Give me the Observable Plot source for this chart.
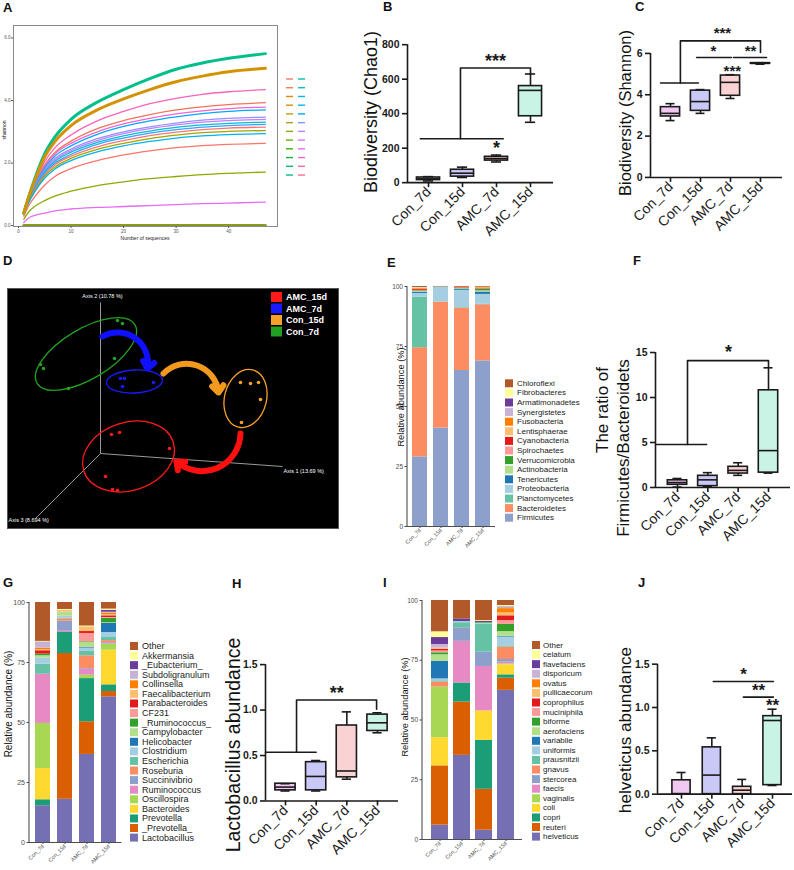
<!DOCTYPE html>
<html><head><meta charset="utf-8">
<script src="https://cdn.jsdelivr.net/npm/d3@7"></script>
<script src="https://cdn.jsdelivr.net/npm/@observablehq/plot@0.6"></script>
<style>
html,body{margin:0;padding:0;background:#fff;}
#root{position:relative;width:794px;height:870px;overflow:hidden;background:#fff;}
#root > svg{position:absolute;}
</style></head><body><div id="root"></div>
<script>
const FF = "'Liberation Sans', Arial, Helvetica, sans-serif";
const root = document.getElementById("root");

// ---------------- A: rarefaction curves ----------------
const rareSeq = [1,2,3,5,7,10,15,20,25,30,35,40,47];
const rareShannon = [
  [0.4,0.95,1.45,2.3,2.85,3.4,3.95,4.35,4.7,5.0,5.2,5.35,5.5],
  [0.4,0.95,1.4,2.2,2.7,3.2,3.7,4.05,4.35,4.6,4.78,4.92,5.03],
  [0.4,0.9,1.35,2.05,2.5,2.9,3.35,3.65,3.9,4.07,4.2,4.28,4.35],
  [0.4,0.9,1.3,1.95,2.35,2.7,3.1,3.36,3.55,3.7,3.8,3.87,3.93],
  [0.4,0.88,1.28,1.9,2.3,2.63,3.0,3.25,3.43,3.57,3.67,3.74,3.79],
  [0.4,0.86,1.25,1.85,2.23,2.55,2.92,3.17,3.35,3.48,3.58,3.65,3.70],
  [0.38,0.85,1.22,1.8,2.15,2.45,2.78,3.0,3.16,3.28,3.37,3.43,3.47],
  [0.38,0.84,1.2,1.77,2.1,2.4,2.72,2.94,3.1,3.22,3.31,3.36,3.40],
  [0.38,0.83,1.18,1.73,2.06,2.35,2.66,2.87,3.02,3.14,3.22,3.27,3.31],
  [0.36,0.8,1.15,1.68,2.0,2.28,2.6,2.8,2.96,3.07,3.15,3.2,3.24],
  [0.36,0.8,1.12,1.63,1.95,2.22,2.52,2.72,2.88,2.99,3.07,3.12,3.15],
  [0.35,0.78,1.08,1.58,1.88,2.15,2.44,2.63,2.78,2.89,2.97,3.01,3.04],
  [0.35,0.75,1.05,1.52,1.82,2.08,2.36,2.55,2.69,2.8,2.87,2.91,2.94],
  [0.3,0.65,0.9,1.3,1.58,1.82,2.08,2.26,2.39,2.49,2.56,2.6,2.63],
  [0.2,0.45,0.6,0.8,0.95,1.1,1.28,1.4,1.5,1.57,1.63,1.67,1.71],
  [0.1,0.25,0.32,0.4,0.47,0.53,0.58,0.61,0.64,0.67,0.7,0.72,0.75],
  [0,0,0,0,0,0,0,0,0,0,0,0,0]
];
const rareColors = ["#00BF8A","#D39200","#F564B8","#F3735A","#F064D6","#00A9FF","#9590FF","#C77CFF",
  "#00BCD8","#35A2FF","#F8766D","#A3A500","#00B4EF","#F8766D","#8EAA00","#E76BF3","#8A9A20"];
const rareWidths = [3,3,1.3,1.3,1.3,1.3,1.3,1.3,1.3,1.3,1.3,1.3,1.3,1.3,1.3,1.3,2.5];
const legendAColors = ["#F8766D","#F07E4F","#E38900","#D39200","#BF9B00","#A8A300","#8EAA00","#6BB100","#39B600","#00BA42","#00BE67","#00C08B",
  "#00C1A9","#00C0C2","#00BCD8","#00B4EF","#00A9FF","#7F96FF","#B385FF","#DB72FB","#F564E3","#FF61C9","#FF65AE","#FF6C91"];

// ---------------- D: PCoA ----------------
const pcoaGroups = ["AMC_15d","AMC_7d","Con_15d","Con_7d"];
const pcoaColors = ["#FF1A1A","#1A1AFF","#F7A12A","#22A022"];
const pcoaAmc15 = [[104,146],[112,144],[162,160],[98,188],[105,201],[110,202]];
const pcoaAmc7 = [[113,90],[117,90],[115,98],[146,94]];
const pcoaCon15 = [[233,94],[243,95],[251,94],[253,111],[234,134]];
const pcoaCon7 = [[110,32],[115,35],[107,70],[33,76],[36,80],[61,100]];
const pcoaEllipses = [[121.5,168.5,47,34,-18],[127.5,93.5,28,11.5,-3],[238.5,110.5,21,29.5,14],[79,66,57,25,-31]];
const pcoaOrigin = [93,165];
const pcoaAxisEnds = [[275,178],[93,14],[28,230]];
const pcoaAxisLabels = ["Axis 1 (13.69 %)","Axis 2 (10.78 %)","Axis 3 (8.694 %)"];
const pcoaArrows = [[95,48,140,80],[156,85,211,104],[233,145,169,173]];
const pcoaArrowColors = ["#1010FF","#F39A1E","#FF1010"];

// ---------------- box plots (min, q1, median, q3, max) ----------------
const groups = ["Con_7d","Con_15d","AMC_7d","AMC_15d"];
const boxFills = ["#F1C8F0","#C9C8F6","#F9D3D3","#C9F3E4"];
const chao1Stats = [[10,15,22,30,35],[30,35,55,75,90],[120,128,140,150,160],[350,385,535,560,630]];
const chao1Brackets = [[[-0.24,255],[2.2,255]],[[0.94,255],[0.94,665],[3,665],[3,632]]];
const chao1Stars = [[1.97,712,"***"],[2,205,"*"]];
const shannonStats = [[2.75,2.95,3.1,3.4,3.57],[3.1,3.22,3.67,4.2,4.25],[3.82,3.95,4.6,4.93,4.97],[5.48,5.5,5.52,5.53,5.55]];
const shannonBrackets = [[[-0.33,4.57],[0.93,4.57]],[[0.33,4.57],[0.33,6.61],[3,6.61],[3,6.05]],[[0.87,5.8],[2.03,5.8]],[[2.1,5.8],[3.2,5.8]]];
const shannonStars = [[1.73,7.04,"***"],[1.43,6.18,"*"],[2.67,6.18,"**"],[2.06,5.2,"***"]];
const fbStats = [[0.05,0.3,0.55,0.8,1.0],[0.1,0.15,0.85,1.3,1.65],[1.35,1.55,1.9,2.3,2.75],[1.6,1.65,4.1,10.8,13.3]];
const fbBrackets = [[[-0.69,4.78],[0.96,4.78]],[[0.33,4.78],[0.33,14.1],[3,14.1],[3,13.4]]];
const fbStars = [[1.68,15.1,"*"]];
const lactoStats = [[0.11,0.117,0.153,0.19,0.19],[0.11,0.117,0.27,0.427,0.445],[0.24,0.26,0.33,0.83,0.98],[0.75,0.77,0.86,0.95,0.97]];
const lactoBrackets = [[[-0.65,0.536],[1.0,0.536]],[[0.36,0.536],[0.36,1.11],[2.97,1.11],[2.97,1.01]]];
const lactoStars = [[1.67,1.2,"**"]];
const helvStats = [[0,0,0.005,0.16,0.25],[0,0,0.22,0.54,0.65],[0,0,0.046,0.085,0.17],[0.1,0.104,0.85,0.9,0.98]];
const helvBrackets = [[[1.05,1.3],[3.03,1.3]],[[2.04,1.12],[3.03,1.12]]];
const helvStars = [[2.05,1.39,"*"],[2.54,1.21,"**"],[3.0,1.03,"**"]];

// ---------------- stacked bars (bottom -> top) ----------------
const phyla = ["Firmicutes","Bacteroidetes","Planctomycetes","Proteobacteria","Tenericutes","Actinobacteria","Verrucomicrobia","Spirochaetes","Cyanobacteria","Lentisphaerae","Fusobacteria","Synergistetes","Armatimonadetes","Fibrobacteres","Chloroflexi"];
const phylaColors = ["#8DA0CB","#FC8D62","#66C2A5","#A6CEE3","#1F78B4","#B2DF8A","#33A02C","#FB9A99","#E31A1C","#FDBF6F","#FF7F00","#CAB2D6","#6A3D9A","#FFFF99","#B15928"];
const phylaCon7 = [29,45.5,21,1.6,0.5,0.3,0.3,0.2,0.4,0.1,0.3,0.1,0.1,0.2,0.4];
const phylaCon15 = [41,52.5,0.1,6,0.1,0.05,0.05,0,0,0,0,0.05,0,0,0.15];
const phylaAmc7 = [65,26,0.2,7.2,0.5,0.2,0.1,0.1,0.2,0,0.2,0,0,0,0.3];
const phylaAmc15 = [69,23.4,0.3,4,1.0,0.5,0.6,0.2,0.2,0,0.3,0,0,0.2,0.3];

const genera = ["Lactobacillus","_Prevotella_","Prevotella","Bacteroides","Oscillospira","Ruminococcus","Succinivibrio","Roseburia","Escherichia","Clostridium","Helicobacter","Campylobacter","_Ruminococcus_","CF231","Parabacteroides","Faecalibacterium","Collinsella","Subdoligranulum","_Eubacterium_","Akkermansia","Other"];
const species = ["helveticus","reuteri","copri","coli","vaginalis","faecis","stercorea","gnavus","prausnitzii","uniformis","variabile","aerofaciens","biforme","muciniphila","coprophilus","pullicaecorum","ovatus","disporicum","flavefaciens","celatum","Other"];
const taxaColors21 = ["#7570B3","#D95F02","#1B9E77","#FFD92F","#A6D854","#E78AC3","#8DA0CB","#FC8D62","#66C2A5","#A6CEE3","#1F78B4","#B2DF8A","#33A02C","#FB9A99","#E31A1C","#FDBF6F","#FF7F00","#CAB2D6","#6A3D9A","#FFFF99","#B15928"];
const genusCon7 = [15.3,0,2.5,13,18.8,20.5,0,0,4.2,2.5,0,1,0.7,0,1.4,0.4,0.7,2.3,0.2,0.3,16.2];
const genusCon15 = [18,60.75,8.75,0,0,0.5,4.2,1,0.3,0.8,0,1.7,0,0,0,0.8,0,0,0,0.3,2.9];
const genusAmc7 = [36.7,13.6,18,0,1.4,2.5,0.3,5.3,1.8,1.4,0.3,2,0.3,3.5,0.8,2,0,0,0,0.3,9.8];
const genusAmc15 = [60.7,2.2,2.8,14.4,2.5,0.4,0.3,0.8,1.3,2.1,3.75,0.3,1.9,0.3,0.7,0.5,0.7,0.3,0.8,0.5,2.75];
const speciesCon7 = [6,24.8,0,11.8,21.2,0,0,2.1,0.5,0.8,7.3,2.8,0.8,0.8,0.7,0.5,0,1.5,2.9,2.4,13.1];
const speciesCon15 = [35.2,22.3,8,0,0,17.4,5.7,0,2.1,0.5,0,0,0,0,0,0,0,0,1.1,0,7.7];
const speciesAmc7 = [3.9,17.1,20.5,12.3,0,18.6,6,0,11.6,0.5,0,0,0.3,0,0,0,0,0,0.5,0.3,8.4];
const speciesAmc15 = [62.4,5.1,1.4,4.2,0.4,0.7,1.1,5.2,0.5,3.7,0.3,2,3,1.6,2,1.2,1.8,0.4,0.3,0.6,2.1];

// ======================================================
const baseStyle = {background: "transparent", fontFamily: FF, overflow: "visible"};
function place(svg, left, top) { svg.style.left = left + "px"; svg.style.top = top + "px"; svg.style.maxWidth = "none"; root.appendChild(svg); }

// ---- Panel A ----
{
  const rows = [];
  rareShannon.forEach((vals, s) => vals.forEach((v, j) => rows.push({s, seq: rareSeq[j], v, c: rareColors[s]})));
  const svg = Plot.plot({
    width: 300, height: 226, marginLeft: 13, marginRight: 23, marginTop: 5, marginBottom: 20,
    x: {domain: [-0.95, 49.3]}, y: {domain: [-0.03, 6.4]},
    color: {type: "identity"}, style: baseStyle,
    marks: [
      Plot.line(rows, {filter: d => rareWidths[d.s] < 2, x: "seq", y: "v", z: "s", stroke: "c", strokeWidth: 1.3, curve: "monotone-x"}),
      Plot.line(rows, {filter: d => rareWidths[d.s] >= 2, x: "seq", y: "v", z: "s", stroke: "c", strokeWidth: 3, curve: "monotone-x"}),
      Plot.frame({stroke: "#8a8a8a", strokeWidth: 1}),
      Plot.axisX({ticks: [0,10,20,30,40], tickSize: 2, tickPadding: 1, fontSize: 4.5, color: "#555", label: null}),
      Plot.axisY({ticks: [0,2,4,6], tickSize: 2, tickPadding: 1, fontSize: 4.5, color: "#555", label: null})
    ]
  });
  place(svg, 0, 20);
}

// ---- Panel D ----
{
  const sets = [pcoaAmc15, pcoaAmc7, pcoaCon15, pcoaCon7];
  const pts = [];
  sets.forEach((arr, g) => arr.forEach(([x, y]) => pts.push({x, y, c: pcoaColors[g]})));
  const axes = pcoaAxisEnds.map(([x, y]) => ({x1: pcoaOrigin[0], y1: pcoaOrigin[1], x2: x, y2: y}));
  const labPos = [[276,183,"start"],[95,8,"middle"],[1,232,"start"]];
  const labs = pcoaAxisLabels.map((t, i) => ({t, x: labPos[i][0], y: labPos[i][1], a: labPos[i][2]}));
  const arrows = pcoaArrows.map(([x1,y1,x2,y2], i) => ({x1,y1,x2,y2,c: pcoaArrowColors[i]}));
  const ellipseMark = (index, scales) => {
    const g = d3.create("svg:g");
    pcoaEllipses.forEach(([cx, cy, rx, ry, ang], i) => {
      const px = scales.x(cx), py = scales.y(cy);
      g.append("ellipse").attr("cx", px).attr("cy", py)
        .attr("rx", Math.abs(scales.x(cx + rx) - px)).attr("ry", Math.abs(scales.y(cy + ry) - py))
        .attr("transform", `rotate(${ang},${px},${py})`)
        .attr("fill", "none").attr("stroke", pcoaColors[i]).attr("stroke-width", 1.3);
    });
    return g.node();
  };
  const svg = Plot.plot({
    width: 331, height: 240, margin: 0,
    x: {domain: [0, 331], range: [0, 331], axis: null}, y: {domain: [0, 240], range: [0, 240], axis: null},
    color: {type: "identity"}, style: baseStyle,
    marks: [
      Plot.frame({fill: "black", stroke: "#555"}),
      Plot.link(axes, {x1: "x1", y1: "y1", x2: "x2", y2: "y2", stroke: "#9a9a9a", strokeWidth: 1}),
      Plot.text(labs.filter(d => d.a === "start"), {x: "x", y: "y", text: "t", fill: "white", fontSize: 5.5, textAnchor: "start"}),
      Plot.text(labs.filter(d => d.a === "middle"), {x: "x", y: "y", text: "t", fill: "white", fontSize: 5.5}),
      ellipseMark,
      Plot.arrow(arrows, {x1: "x1", y1: "y1", x2: "x2", y2: "y2", stroke: "c", strokeWidth: 6, bend: 65, headLength: 2.2, headAngle: 80}),
      Plot.dot(pts, {x: "x", y: "y", fill: "c", r: 1.8})
    ]
  });
  place(svg, 7, 288);
}

// ---- Box panels ----
function boxPanel(cfg) {
  const k = (cfg.c3 - cfg.c0) / 3;
  const xmin = (cfg.ax0 - cfg.c0) / k, xmax = (cfg.ax1 - cfg.c0) / k;
  const ppu = (cfg.y0 - cfg.tickPx) / cfg.tickVal;
  const mL = 48, mR = 14, mT = 10, mB = 75;
  const width = mL + (cfg.ax1 - cfg.ax0) + mR;
  const height = mT + ppu * cfg.yMax + mB;
  const rows = cfg.stats.map((s, i) => ({i, min: s[0], q1: s[1], med: s[2], q3: s[3], max: s[4], fill: boxFills[i]}));
  const hw = cfg.hw, cw = 0.15, ink = "#1a1a1a", sw = 1.6;
  const segs = [];
  cfg.brackets.forEach((b, j) => b.forEach(([x, y]) => segs.push({j, x, y})));
  const stars = cfg.stars.map(([x, y, t]) => ({x, y, t}));
  const topTick = cfg.yTicks[cfg.yTicks.length - 1];
  const svg = Plot.plot({
    width, height, marginLeft: mL, marginRight: mR, marginTop: mT, marginBottom: mB,
    x: {domain: [xmin, xmax]}, y: {domain: [0, cfg.yMax]},
    color: {type: "identity"}, style: {...baseStyle, color: ink},
    marks: [
      Plot.ruleX(rows, {x: "i", y1: "min", y2: "max", stroke: ink, strokeWidth: sw}),
      Plot.rect(rows, {x1: d => d.i - hw, x2: d => d.i + hw, y1: "q1", y2: "q3", fill: "fill", stroke: ink, strokeWidth: sw}),
      Plot.ruleY(rows, {y: "med", x1: d => d.i - hw, x2: d => d.i + hw, stroke: ink, strokeWidth: sw}),
      Plot.ruleY(rows, {y: "min", x1: d => d.i - cw, x2: d => d.i + cw, stroke: ink, strokeWidth: sw}),
      Plot.ruleY(rows, {y: "max", x1: d => d.i - cw, x2: d => d.i + cw, stroke: ink, strokeWidth: sw}),
      Plot.ruleX([xmin], {y1: 0, y2: topTick, stroke: ink, strokeWidth: sw}),
      Plot.ruleY([0], {x1: xmin, x2: xmax, stroke: ink, strokeWidth: sw}),
      Plot.axisY({ticks: cfg.yTicks, tickFormat: cfg.fmt, tickSize: 5, tickPadding: 3, fontSize: 10.5, fontWeight: "bold", strokeWidth: sw, color: ink, label: null}),
      Plot.axisX({ticks: [0,1,2,3], tickFormat: i => groups[i], tickRotate: -45, tickSize: 5, tickPadding: 2, fontSize: 14, strokeWidth: sw, color: ink, label: null}),
      Plot.line(segs, {x: "x", y: "y", z: "j", stroke: ink, strokeWidth: sw}),
      Plot.text(stars, {x: "x", y: "y", text: "t", fontSize: cfg.starSize, fontWeight: "bold", fill: ink, dy: 1})
    ]
  });
  place(svg, cfg.ax0 - mL, cfg.y0 - ppu * cfg.yMax - mT);
}
const f1 = d3.format(".1f");
boxPanel({stats: chao1Stats, brackets: chao1Brackets, stars: chao1Stars, c0: 428, c3: 530, ax0: 407, ax1: 553, y0: 182, tickPx: 44, tickVal: 800, yMax: 830, yTicks: [0,200,400,600,800], fmt: d => d, hw: 0.34, starSize: 18});
boxPanel({stats: shannonStats, brackets: shannonBrackets, stars: shannonStars, c0: 670, c3: 760, ax0: 650, ax1: 782, y0: 176.7, tickPx: 52.7, tickVal: 6, yMax: 7.4, yTicks: [0,2,4,6], fmt: d => d, hw: 0.32, starSize: 15});
boxPanel({stats: fbStats, brackets: fbBrackets, stars: fbStars, c0: 677, c3: 768, ax0: 655, ax1: 790, y0: 487, tickPx: 352, tickVal: 15, yMax: 16, yTicks: [0,5,10,15], fmt: d => d, hw: 0.32, starSize: 18});
boxPanel({stats: lactoStats, brackets: lactoBrackets, stars: lactoStars, c0: 285, c3: 377, ax0: 265, ax1: 398, y0: 800.7, tickPx: 664.3, tickVal: 1.5, yMax: 1.6, yTicks: [0,0.5,1,1.5], fmt: f1, hw: 0.33, starSize: 18});
boxPanel({stats: helvStats, brackets: helvBrackets, stars: helvStars, c0: 681, c3: 772, ax0: 657, ax1: 792, y0: 794, tickPx: 664, tickVal: 1.5, yMax: 1.6, yTicks: [0,0.5,1,1.5], fmt: f1, hw: 0.3, starSize: 17});

// ---- Stacked panels ----
function stackPanel(cfg) {
  const rows = [];
  cfg.values.forEach((vals, g) => vals.forEach((v, j) => rows.push({g: groups[g], t: cfg.taxa[j], j, v})));
  rows.sort((a, b) => a.j - b.j);
  const ppu = (cfg.y0 - cfg.y100) / 100;
  const mL = 24, mR = 4, mT = 6, mB = 30;
  const width = mL + (cfg.ax1 - cfg.ax0) + mR;
  const height = mT + ppu * 100 + mB;
  const axisLine = (index, scales, values, dims) => d3.create("svg:line")
    .attr("x1", dims.marginLeft).attr("x2", dims.marginLeft)
    .attr("y1", scales.y(0)).attr("y2", scales.y(100))
    .attr("stroke", "#4d4d4d").attr("stroke-width", 1.1).node();
  const svg = Plot.plot({
    width, height, marginLeft: mL, marginRight: mR, marginTop: mT, marginBottom: mB,
    x: {domain: groups, paddingInner: cfg.pi, paddingOuter: cfg.po}, y: {domain: [0, 100]},
    color: {domain: cfg.taxa, range: cfg.colors}, style: baseStyle,
    marks: [
      Plot.barY(rows, {x: "g", y: "v", fill: "t", order: cfg.taxa}),
      Plot.ruleY([0], {stroke: "#4d4d4d", strokeWidth: 1.1}),
      axisLine,
      Plot.axisY({ticks: [0,25,50,75,100], tickSize: 2.5, tickPadding: 2, fontSize: cfg.fs, color: "#4d4d4d", label: null}),
      Plot.axisX({tickRotate: -45, tickSize: 2, tickPadding: 1, fontSize: 5.5, color: "#4d4d4d", label: null})
    ]
  });
  place(svg, cfg.ax0 - mL, cfg.y100 - mT);
}
stackPanel({taxa: phyla, colors: phylaColors, values: [phylaCon7, phylaCon15, phylaAmc7, phylaAmc15], ax0: 407, ax1: 495, y0: 526, y100: 286, pi: 0.3, po: 0.18, fs: 6.5});
stackPanel({taxa: genera, colors: taxaColors21, values: [genusCon7, genusCon15, genusAmc7, genusAmc15], ax0: 29, ax1: 121.5, y0: 842, y100: 602, pi: 0.3, po: 0.2, fs: 7});
stackPanel({taxa: species, colors: taxaColors21, values: [speciesCon7, speciesCon15, speciesAmc7, speciesAmc15], ax0: 422, ax1: 522, y0: 839, y100: 600, pi: 0.25, po: 0.33, fs: 6.5});

// ---- Overlay: panel letters, axis titles, legends ----
const ov = d3.select(root).append("svg").attr("width", 794).attr("height", 870)
  .style("left", 0).style("top", 0).style("font-family", FF).style("pointer-events", "none");
const letters = [["A",3,12],["B",383,11],["C",635,11],["D",3,265],["E",387,267],["F",633,265],["G",3,587],["H",232,588],["I",383,587],["J",638,587]];
letters.forEach(([t, x, y]) => ov.append("text").attr("x", x).attr("y", y).attr("font-size", 13).attr("font-weight", "bold").attr("fill", "#111").text(t));
const yLabels = [
  ["Biodiversity (Chao1)", 371, 112, 18],
  ["Biodiversity (Shannon)", 625, 113, 16.5],
  ["The ratio of", 602, 410, 17],
  ["Firmicutes/Bacteroidets", 623, 448, 17],
  ["Lactobacillus abundance", 233, 745, 19.5],
  ["helveticus abundance", 625, 730, 17.2],
  ["Relative abundance (%)", 401, 397, 9.3],
  ["Relative abundance (%)", 8.5, 704, 10],
  ["Relative abundance (%)", 405, 707, 9.3],
  ["shannon", 4, 130, 5]
];
yLabels.forEach(([t, x, y, fs]) => ov.append("text").attr("transform", `translate(${x},${y}) rotate(-90)`)
  .attr("text-anchor", "middle").attr("dominant-baseline", "central").attr("font-size", fs).attr("fill", "#111").text(t));
ov.append("text").attr("x", 145).attr("y", 238).attr("text-anchor", "middle").attr("dominant-baseline", "central").attr("font-size", 5).attr("fill", "#222").text("Number of sequences");

// A legend dashes
legendAColors.forEach((c, i) => {
  const col = Math.floor(i / 12), row = i % 12;
  const x = col === 0 ? 286 : 298, y = 79 + row * 8.73;
  ov.append("line").attr("x1", x).attr("x2", x + 7).attr("y1", y).attr("y2", y).attr("stroke", c).attr("stroke-width", 1.4);
});

// D legend
const dLegY = [297, 308.5, 320, 331.5];
pcoaGroups.forEach((g, i) => {
  ov.append("rect").attr("x", 271).attr("y", dLegY[i] - 5).attr("width", 11).attr("height", 10).attr("fill", pcoaColors[i]);
  ov.append("text").attr("x", 286).attr("y", dLegY[i]).attr("dominant-baseline", "central").attr("font-size", 9).attr("font-weight", "bold").attr("fill", "white").text(g);
});

// stacked legends (top item = last taxon)
function swatches(taxa, colors, x, tx, y0, dy, fs) {
  const n = taxa.length;
  for (let k = 0; k < n; k++) {
    const j = n - 1 - k, y = y0 + k * dy;
    ov.append("rect").attr("x", x).attr("y", y - 4).attr("width", 8).attr("height", 8).attr("fill", colors[j]);
    ov.append("text").attr("x", tx).attr("y", y).attr("dominant-baseline", "central").attr("font-size", fs).attr("fill", "#222").text(taxa[j]);
  }
}
swatches(phyla, phylaColors, 505, 517, 383.3, 9.6, 8);
swatches(genera, taxaColors21, 130, 142, 646, 9.58, 9);
swatches(species, taxaColors21, 532, 543, 645, 9.58, 8);
</script></body></html>
